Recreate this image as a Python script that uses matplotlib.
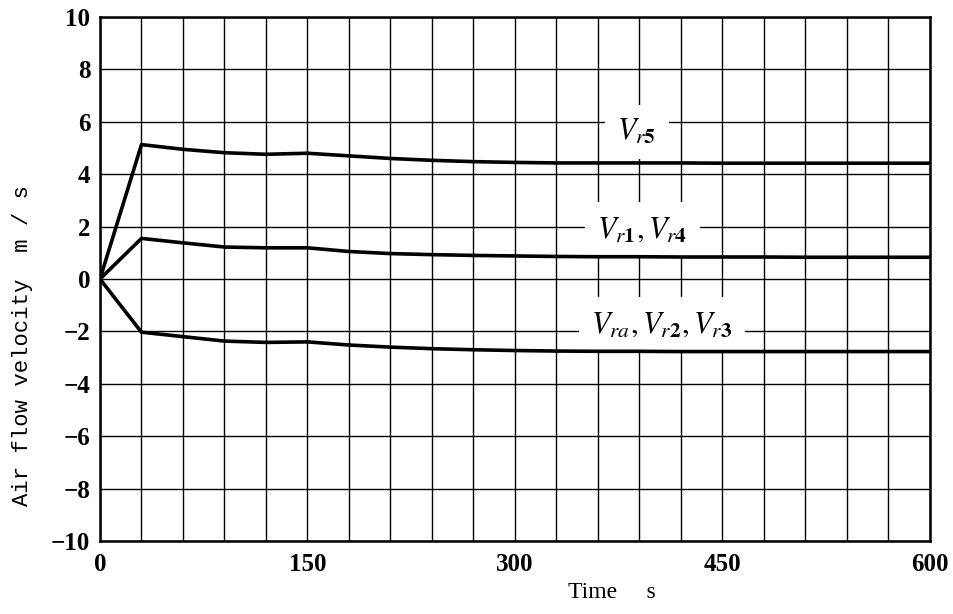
import matplotlib
matplotlib.use("Agg")
import matplotlib.pyplot as plt
from matplotlib.ticker import MultipleLocator

# time axis (s) and the three velocity curves (m/s)
time_s = [0, 30, 60, 90, 120, 150, 180, 210, 240, 270, 300,
          330, 360, 390, 420, 450, 480, 510, 540, 570, 600]
v_r5 = [0, 5.13, 4.95, 4.82, 4.76, 4.80, 4.70, 4.60, 4.53, 4.48, 4.45,
        4.43, 4.43, 4.43, 4.43, 4.42, 4.42, 4.42, 4.42, 4.42, 4.42]
v_r1_r4 = [0, 1.55, 1.38, 1.22, 1.19, 1.19, 1.05, 0.97, 0.93, 0.90, 0.88,
           0.86, 0.85, 0.85, 0.84, 0.84, 0.84, 0.83, 0.83, 0.83, 0.83]
v_ra_r2_r3 = [0, -2.03, -2.20, -2.37, -2.42, -2.40, -2.52, -2.60, -2.66, -2.70, -2.73,
              -2.75, -2.76, -2.76, -2.77, -2.77, -2.77, -2.77, -2.77, -2.77, -2.77]

series = [v_r5, v_r1_r4, v_ra_r2_r3]
curve_labels = [r"$V_{r\mathbf{5}}$", r"$V_{r\mathbf{1}}, V_{r\mathbf{4}}$",
                r"$V_{ra}, V_{r\mathbf{2}}, V_{r\mathbf{3}}$"]
label_xy = [(388, 5.62), (392, 1.9), (406, -1.72)]

x_ticks = [0, 150, 300, 450, 600]
y_ticks = list(range(-10, 11, 2))

plt.rcParams["mathtext.fontset"] = "stix"

fig = plt.figure(figsize=(9.54, 6.14), dpi=100)
ax = fig.add_axes([0.1048, 0.1189, 0.8700, 0.8534])

ax.set_xlim(0, 600)
ax.set_ylim(-10, 10)
ax.set_xticks(x_ticks)
ax.set_yticks(y_ticks)
ax.xaxis.set_minor_locator(MultipleLocator(30))
ax.grid(True, which="both", color="black", linewidth=1.0, zorder=1)
ax.set_axisbelow(True)
ax.tick_params(which="both", length=0)
ax.tick_params(axis="x", pad=9)
ax.tick_params(axis="y", pad=7)
for lab in ax.get_xticklabels() + ax.get_yticklabels():
    lab.set_fontfamily("Liberation Serif")
    lab.set_fontweight("bold")
    lab.set_fontsize(18)
for sp in ax.spines.values():
    sp.set_linewidth(1.8)

for values in series:
    ax.plot(time_s, values, color="black", linewidth=2.6, zorder=4)

for text, (tx, ty) in zip(curve_labels, label_xy):
    ax.text(tx, ty, text, fontsize=22, ha="center", va="center", zorder=3,
            bbox=dict(facecolor="white", edgecolor="none", pad=9))

ax.set_xlabel("Time     s", fontfamily="Liberation Serif", fontsize=17, va="top")
ax.xaxis.set_label_coords(0.617, -0.078)
ax.set_ylabel("Air flow velocity  m / s", fontfamily="Liberation Mono", fontsize=16)
ax.yaxis.set_label_coords(-0.081, 0.374)

fig.savefig("out.png", dpi=100)
